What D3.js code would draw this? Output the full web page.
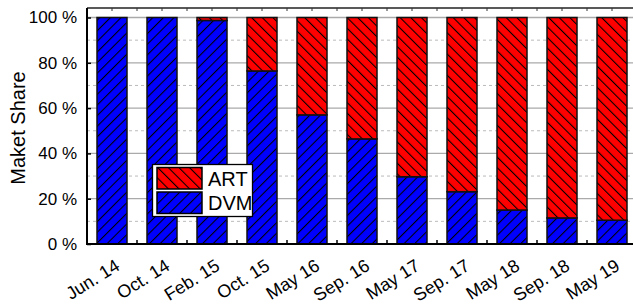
<!DOCTYPE html>
<html><head><meta charset="utf-8">
<script src="https://cdn.jsdelivr.net/npm/d3@7"></script>
<style>body{margin:0;background:#fff;} svg{display:block;font-family:"Liberation Sans",Arial,sans-serif;}</style>
</head><body>
<svg id="c" width="633" height="305"></svg>
<script>
const categories = ["Jun. 14","Oct. 14","Feb. 15","Oct. 15","May 16","Sep. 16","May 17","Sep. 17","May 18","Sep. 18","May 19"];
const dvm = [100, 100, 98.7, 76.4, 57.0, 46.4, 29.7, 23.1, 15.0, 11.5, 10.5];
const art = [0, 0, 1.3, 23.6, 43.0, 53.6, 70.3, 76.9, 85.0, 88.5, 89.5];
const yTicks = [0, 20, 40, 60, 80, 100];
const yMinor = [10, 30, 50, 70, 90];
const seriesNames = ["DVM", "ART"];
const legendOrder = ["ART", "DVM"];

const svg = d3.select("#c");
const L = 87, R = 637, T = 8, B = 244;
const x = d3.scaleBand().domain(categories).range([L, R]).paddingInner(0.4).paddingOuter(0.2);
const y = d3.scaleLinear().domain([0, 104.2]).range([B, T]);

const defs = svg.append("defs");
function hatch(id, fill, angle) {
  const p = defs.append("pattern").attr("id", id).attr("patternUnits", "userSpaceOnUse")
    .attr("width", 7.5).attr("height", 7.5).attr("patternTransform", `rotate(${angle})`);
  p.append("rect").attr("x", -1).attr("y", -1).attr("width", 10).attr("height", 10).attr("fill", fill);
  p.append("line").attr("x1", 0.5).attr("x2", 0.5).attr("y1", -1).attr("y2", 9).attr("stroke", "#000").attr("stroke-width", 1.1);
}
hatch("hDVM", "#0000ff", 45);
hatch("hART", "#ff0000", -45);
const fills = {DVM: "url(#hDVM)", ART: "url(#hART)"};

// grid
svg.append("g").selectAll("line").data(yMinor).join("line")
  .attr("x1", L).attr("x2", R).attr("y1", d => y(d)).attr("y2", d => y(d))
  .attr("stroke", "#bbb").attr("stroke-width", 1).attr("stroke-dasharray", "3,3");
svg.append("g").selectAll("line").data(yTicks.slice(1)).join("line")
  .attr("x1", L).attr("x2", R).attr("y1", d => y(d)).attr("y2", d => y(d))
  .attr("stroke", "#aaa").attr("stroke-width", 1.3);

// stacked bars
const rows = categories.map((c, i) => ({cat: c, DVM: dvm[i], ART: art[i]}));
const stack = d3.stack().keys(seriesNames)(rows);
svg.append("g").selectAll("g").data(stack).join("g")
  .selectAll("rect").data(s => s.map(d => ({key: s.key, d})).filter(o => o.d[1] - o.d[0] > 0)).join("rect")
  .attr("x", o => x(o.d.data.cat))
  .attr("width", x.bandwidth())
  .attr("y", o => y(o.d[1]))
  .attr("height", o => y(o.d[0]) - y(o.d[1]))
  .attr("fill", o => fills[o.key])
  .attr("stroke", "#111").attr("stroke-width", 1.5);

// top frame line + ticks
svg.append("line").attr("x1", L).attr("x2", R).attr("y1", T).attr("y2", T).attr("stroke", "#222").attr("stroke-width", 1.5);
const topTicks = [];
categories.forEach(c => { topTicks.push(x(c) - 10); topTicks.push(x(c) + 15); });
svg.append("g").selectAll("line").data(topTicks).join("line")
  .attr("x1", d => d).attr("x2", d => d).attr("y1", T).attr("y2", T + 3)
  .attr("stroke", "#333").attr("stroke-width", 1);

// bottom ticks at boundaries
svg.append("g").selectAll("line").data(categories.slice(1)).join("line")
  .attr("x1", c => x(c) - 10).attr("x2", c => x(c) - 10).attr("y1", B).attr("y2", B - 4)
  .attr("stroke", "#000").attr("stroke-width", 1.5);

// axes
const yAxis = svg.append("g").attr("transform", `translate(${L},0)`)
  .call(d3.axisLeft(y).tickValues(yTicks).tickSize(-4).tickPadding(10).tickFormat(d => d + " %"));
yAxis.select(".domain").remove();
yAxis.selectAll(".tick line").attr("stroke", "#000").attr("stroke-width", 1.5);
yAxis.selectAll("text").attr("font-size", 17).attr("fill", "#000").attr("font-family", "Liberation Sans, Arial, sans-serif");

svg.append("line").attr("x1", L).attr("x2", L).attr("y1", T).attr("y2", B + 1).attr("stroke", "#000").attr("stroke-width", 2);
svg.append("line").attr("x1", L - 1).attr("x2", R).attr("y1", B).attr("y2", B).attr("stroke", "#000").attr("stroke-width", 2);

// x labels
const xg = svg.append("g").attr("transform", `translate(0,${B})`)
  .call(d3.axisBottom(x).tickSize(0).tickFormat(d => d));
xg.select(".domain").remove();
xg.selectAll("text").attr("font-size", 18).attr("fill", "#000")
  .attr("font-family", "Liberation Sans, Arial, sans-serif")
  .attr("text-anchor", "end").attr("dy", null).attr("y", 0)
  .attr("transform", "translate(9,25) rotate(-32)");

// y title
svg.append("text").attr("transform", `translate(25,128) rotate(-90)`)
  .attr("text-anchor", "middle").attr("font-size", 20).attr("fill", "#000").text("Maket Share");

// legend
const lg = svg.append("g");
lg.append("rect").attr("x", 152.5).attr("y", 164.5).attr("width", 100).attr("height", 52)
  .attr("fill", "#fff").attr("stroke", "#000").attr("stroke-width", 1.3);
legendOrder.forEach((k, i) => {
  const yy = 167.5 + i * 24.5;
  lg.append("rect").attr("x", 157).attr("y", yy).attr("width", 45).attr("height", 21.5)
    .attr("fill", fills[k]).attr("stroke", "#000").attr("stroke-width", 1.5);
  lg.append("text").attr("x", 208).attr("y", yy + 18).attr("font-size", 20).attr("fill", "#000").text(k);
});
</script>
</body></html>
